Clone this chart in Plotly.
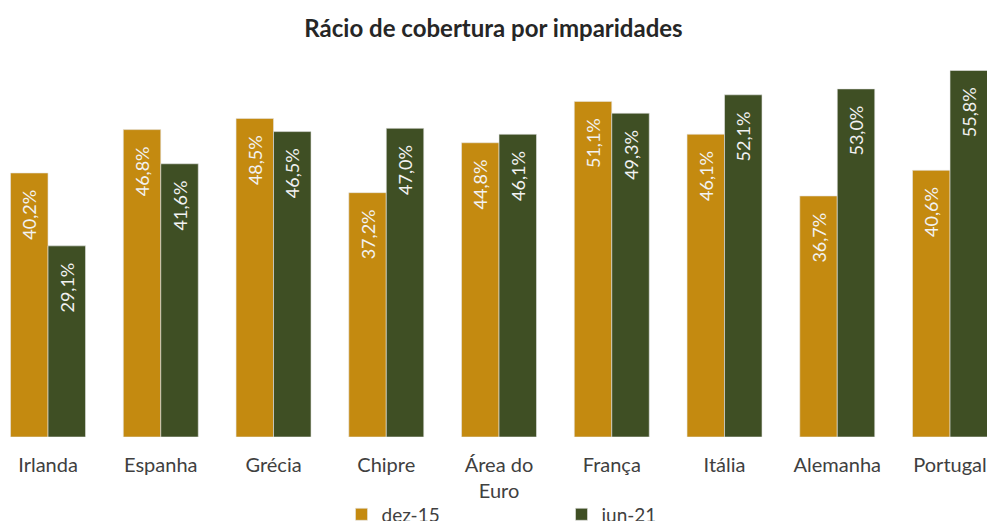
import plotly.graph_objects as go

paises = ["Irlanda", "Espanha", "Grécia", "Chipre", "Área do<br>Euro",
          "França", "Itália", "Alemanha", "Portugal"]
dez15 = [40.2, 46.8, 48.5, 37.2, 44.8, 51.1, 46.1, 36.7, 40.6]
jun21 = [29.1, 41.6, 46.5, 47.0, 46.1, 49.3, 52.1, 53.0, 55.8]

FONTE = "Lato"


def rotulo(v):
    # espaço extra no fim empurra o texto para baixo do topo da barra
    return f"{v:.1f}%".replace(".", ",") + "\u00a0\u00a0\u00a0"


fig = go.Figure()
for nome, vals, cor in [("dez-15", dez15, "#C48A10"), ("jun-21", jun21, "#3F4F24")]:
    fig.add_trace(go.Bar(
        x=paises, y=vals, name=nome,
        marker=dict(color=cor, line=dict(color="#E6E6E6", width=0.6)),
        text=[rotulo(v) for v in vals],
        textposition="inside", insidetextanchor="end", textangle=-90,
        textfont=dict(family=FONTE, size=18, color="#F2F2F2"),
    ))

fig.update_layout(
    width=987, height=521,
    barmode="group", bargap=0.335, bargroupgap=0,
    title=dict(text="<b>Rácio de cobertura por imparidades</b>", x=0.5, xanchor="center",
               y=0.946, yanchor="middle",
               font=dict(family=FONTE, size=24, color="#262626")),
    margin=dict(l=0, r=0, t=60, b=84, autoexpand=False),
    plot_bgcolor="white", paper_bgcolor="white",
    showlegend=True,
    legend=dict(orientation="h", x=0.346, xanchor="left", y=-0.155, yanchor="top",
                entrywidth=175, bgcolor="rgba(0,0,0,0)",
                font=dict(family=FONTE, size=19, color="#404040"),
                traceorder="normal"),
    uniformtext=dict(mode="show", minsize=10),
)
fig.update_xaxes(range=[-0.426, 8.328], showline=False, ticks="", automargin=False,
                 ticklabelstandoff=14,
                 tickfont=dict(family=FONTE, size=20, color="#404040"))
fig.update_yaxes(range=[0, 57.4], visible=False, showgrid=False)

# a margem por defeito do <body> desloca o gráfico 8px
fig.write_html("out.html", config={"displayModeBar": False},
               post_script="document.body.style.margin='0';document.body.style.overflow='hidden';")
